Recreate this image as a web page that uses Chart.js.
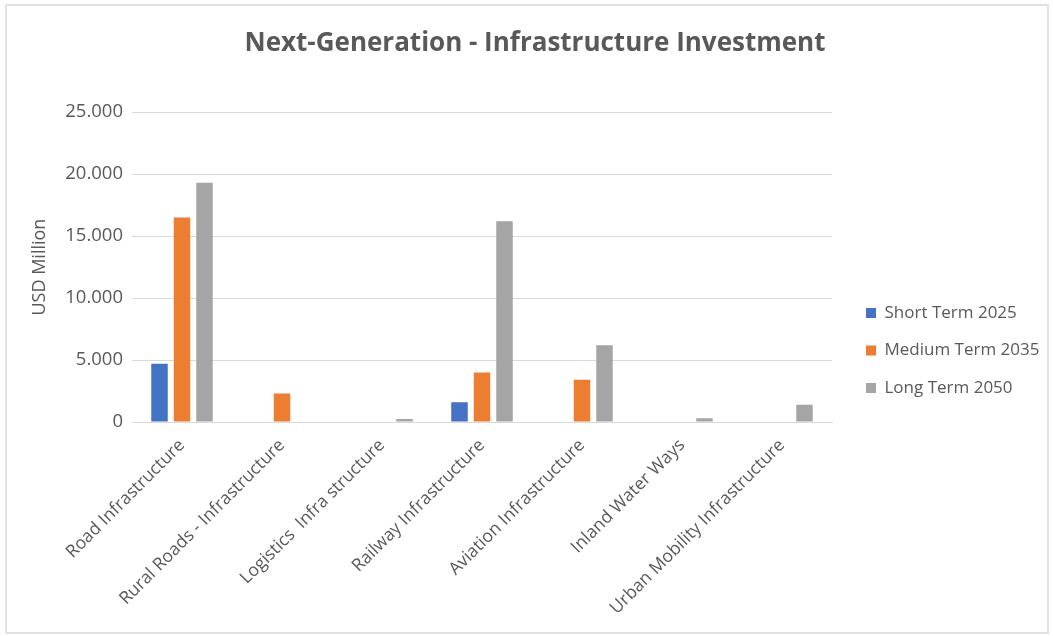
<!DOCTYPE html>
<html>
<head>
<meta charset="utf-8">
<title>Next-Generation - Infrastructure Investment</title>
<script src="https://cdn.jsdelivr.net/npm/chart.js@4.4.1/dist/chart.umd.min.js"></script>
<style>
  html, body { margin: 0; padding: 0; background: #ffffff; }
  #wrap { position: relative; width: 1053px; height: 636px; }
  #myChart { position: absolute; left: 0; top: 0; }
  #frame {
    position: absolute; left: 5px; top: 4px; width: 1040px; height: 626px;
    border: 2px solid #e2e2e2; pointer-events: none;
  }
</style>
</head>
<body>
<div id="wrap">
  <canvas id="myChart" width="1053" height="636"></canvas>
  <div id="frame"></div>
</div>
<script>
const categories = [
  "Road Infrastructure",
  "Rural Roads - Infrastructure",
  "Logistics  Infra structure",
  "Railway Infrastructure",
  "Aviation Infrastructure",
  "Inland Water Ways",
  "Urban Mobility Infrastructure",
];
const shortTerm = [4700, null, null, 1600, null, null, null];
const mediumTerm = [16500, 2300, null, 4000, 3400, null, null];
const longTerm = [19300, null, 250, 16200, 6200, 300, 1400];
const yTicks = [0, 5000, 10000, 15000, 20000, 25000];

const textColor = "#595959";
const fontFamily = "'Open Sans', 'Noto Sans', sans-serif";

// 25000 -> "25.000"
function dotThousands(v) {
  return String(v).replace(/\B(?=(\d{3})+(?!\d))/g, ".");
}

// title centred over the whole frame, legend to the right of the plot
const placeBoxes = {
  id: "placeBoxes",
  afterLayout(chart) {
    const tb = chart.titleBlock;
    tb.left = 0;
    tb.right = 1070;
    tb.width = 1070;

    const lg = chart.legend;
    lg.left = 845.5;
    lg.top = 284;
    lg.width = 200;
    lg.height = 320;
    lg.right = lg.left + lg.width;
    lg.bottom = lg.top + lg.height;
  },
};

const ctx = document.getElementById("myChart");

new Chart(ctx, {
  type: "bar",
  data: {
    labels: categories,
    datasets: [
      { label: "Short Term 2025", data: shortTerm, backgroundColor: "#4472c4" },
      { label: "Medium Term 2035", data: mediumTerm, backgroundColor: "#ed7d31" },
      { label: "Long Term 2050", data: longTerm, backgroundColor: "#a5a5a5" },
    ],
  },
  options: {
    responsive: false,
    animation: false,
    devicePixelRatio: 1,
    layout: { padding: { left: 0, top: 0, right: 221, bottom: 0 } },
    datasets: {
      bar: { categoryPercentage: 0.675, barPercentage: 0.733, borderWidth: 0 },
    },
    scales: {
      x: {
        grid: { display: false },
        border: { display: true, color: "#d9d9d9", width: 1 },
        ticks: {
          color: textColor,
          font: { family: fontFamily, size: 17.5 },
          minRotation: 45,
          maxRotation: 45,
          autoSkip: false,
          padding: 5,
        },
        afterFit(scale) {
          scale.height = 214;
        },
      },
      y: {
        min: 0,
        max: 25000,
        grid: { color: "#d9d9d9", drawTicks: false },
        border: { display: false },
        ticks: {
          color: textColor,
          font: { family: fontFamily, size: 18.5 },
          padding: 9,
          callback: (v) => dotThousands(v),
        },
        afterBuildTicks(scale) {
          scale.ticks = yTicks.map((v) => ({ value: v }));
        },
        title: {
          display: true,
          text: "USD Million",
          color: textColor,
          font: { family: fontFamily, size: 18 },
          padding: { top: 29, bottom: 0 },
        },
        afterFit(scale) {
          scale.width = 132;
        },
      },
    },
    plugins: {
      title: {
        display: true,
        text: "Next-Generation - Infrastructure Investment",
        color: textColor,
        font: { family: fontFamily, size: 26, weight: "bold" },
        padding: { top: 28, bottom: 53 },
      },
      legend: {
        position: "chartArea",
        align: "start",
        labels: {
          color: textColor,
          font: { family: fontFamily, size: 17 },
          boxWidth: 10,
          boxHeight: 10,
          padding: 20.5,
        },
      },
      tooltip: { enabled: false },
    },
  },
  plugins: [placeBoxes],
});
</script>
</body>
</html>
